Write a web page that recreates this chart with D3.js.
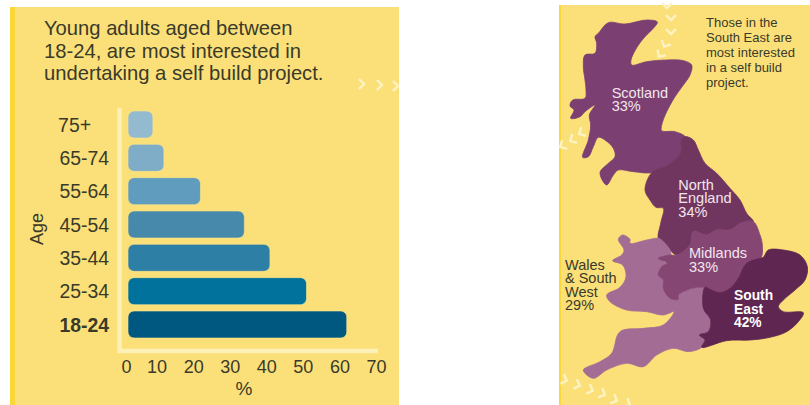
<!DOCTYPE html>
<html>
<head>
<meta charset="utf-8">
<script src="https://cdn.jsdelivr.net/npm/d3@7/dist/d3.min.js"></script>
<style>
html,body{margin:0;padding:0;background:#fff;}
svg{display:block;}
text{font-family:"Liberation Sans",Arial,sans-serif;}
</style>
</head>
<body>
<svg id="chart" width="810" height="405"></svg>
<script>
// Self build interest by age group
const ageGroups = ["75+", "65-74", "55-64", "45-54", "35-44", "25-34", "18-24"];
const interest = [9, 12, 22, 34, 41, 51, 62];
const barColours = ["#93bace", "#7fadc8", "#609cbd", "#4689ab", "#2e7fa5", "#00729b", "#005880"];
const percentTicks = [0, 10, 20, 30, 40, 50, 60, 70];
const titleLines = ["Young adults aged between", "18-24, are most interested in", "undertaking a self build project."];
const noteLines = ["Those in the", "South East are", "most interested", "in a self build", "project."];

// Region outlines in map units
const scotland = [[175,68],[225,72],[290,60],[322,66],[310,85],[285,110],[262,140],[243,180],[245,195],[290,185],[350,180],[400,182],[425,195],[420,225],[400,255],[375,290],[350,335],[335,375],[335,392],[375,395],[405,410],[392,425],[395,450],[375,480],[345,500],[305,518],[250,515],[205,510],[190,525],[170,555],[150,518],[175,490],[195,470],[190,445],[165,420],[145,412],[130,440],[115,470],[98,472],[115,420],[122,375],[118,345],[135,315],[105,335],[90,350],[62,355],[72,330],[60,318],[68,300],[105,295],[108,270],[105,240],[100,200],[105,165],[135,160],[140,130],[135,110],[145,100]];
const northEngland = [[405,410],[430,420],[445,450],[465,490],[500,520],[540,565],[570,600],[590,640],[610,665],[575,668],[540,690],[500,690],[470,705],[430,695],[420,735],[380,765],[360,750],[340,725],[325,715],[332,670],[340,625],[318,622],[300,600],[285,570],[305,518],[345,500],[375,480],[395,450],[392,425]];
const midlands = [[610,665],[630,705],[637,735],[632,775],[590,790],[565,835],[540,865],[510,878],[480,868],[465,862],[440,862],[410,870],[385,885],[385,898],[360,895],[340,865],[340,840],[325,825],[335,800],[352,790],[325,775],[345,768],[362,765],[380,765],[420,735],[430,695],[470,705],[500,690],[540,690],[575,668]];
const southEast = [[632,775],[640,772],[655,750],[700,750],[750,765],[772,800],[765,840],[735,870],[700,900],[685,920],[700,935],[760,938],[745,965],[710,995],[660,1012],[600,1020],[530,1022],[455,1042],[465,1020],[448,1005],[475,995],[482,960],[460,925],[465,862],[480,868],[510,878],[540,865],[565,835],[590,790]];
const walesSouthWest = [[205,718],[218,705],[240,718],[240,730],[290,720],[325,715],[340,725],[360,750],[362,765],[345,775],[340,785],[355,790],[335,800],[325,825],[340,840],[340,865],[360,895],[385,898],[385,885],[410,870],[440,862],[465,862],[460,925],[482,960],[475,995],[448,1005],[465,1020],[455,1042],[415,1055],[370,1045],[320,1065],[280,1100],[230,1090],[170,1110],[130,1135],[100,1110],[150,1085],[185,1060],[210,995],[280,985],[340,975],[372,935],[340,945],[290,935],[230,930],[180,905],[170,885],[210,862],[228,830],[218,795],[188,782],[215,765],[222,750]];
const regionOutlines = [scotland, northEngland, walesSouthWest, midlands, southEast];
const regionColours = ["#7b3f72", "#713660", "#a36c94", "#854674", "#5e2650"];

const regionLabels = [
  {lines: ["Scotland", "33%"], at: [185, 293], fill: "#f3e6ec", weight: "normal", size: 14.5},
  {lines: ["North", "England", "34%"], at: [385, 570], fill: "#f3e6ec", weight: "normal", size: 14.5},
  {lines: ["Midlands", "33%"], at: [417, 775], fill: "#f3e6ec", weight: "normal", size: 14.5},
  {lines: ["South", "East", "42%"], at: [552, 901], fill: "#ffffff", weight: "bold", size: 13.8},
  {lines: ["Wales", "& South", "West", "29%"], at: [45, 810], fill: "#3a3a28", weight: "normal", size: 14.5}
];

// Decorative chevrons: page position and pointing direction in degrees
const chevronsLeft = [[362, 84, 0], [380, 85, 0], [396, 86, 0]];
const chevronsRight = [[667, 6, 90], [671, 18, 90], [671, 32, 90], [665, 45, 115], [660, 55, 125], [581, 133, 150], [572, 140, 150], [562, 146, 150], [565, 380, 20], [578, 385, 20], [591, 390, 20], [603, 394, 25], [615, 400, 25], [628, 404, 25]];

const svg = d3.select("#chart");
const ink = "#3a3a28";
const panelFill = "#fbe07a";
const stripeFill = "#f9d63a";

// Panels
const panels = [[10, 7, 389, 398], [559, 5, 251, 400]];
svg.selectAll("rect.panel").data(panels).join("rect")
  .attr("class", "panel")
  .attr("x", d => d[0]).attr("y", d => d[1])
  .attr("width", d => d[2]).attr("height", d => d[3])
  .attr("fill", panelFill);
svg.selectAll("rect.stripe").data(panels).join("rect")
  .attr("class", "stripe")
  .attr("x", d => d[0]).attr("y", d => d[1])
  .attr("width", (d, i) => i ? 2 : 5).attr("height", d => d[3])
  .attr("fill", stripeFill);

// Chevrons
const chevron = "M-3,-5L2,0L-3,5";
svg.selectAll("path.chevron").data(chevronsLeft.concat(chevronsRight)).join("path")
  .attr("class", "chevron")
  .attr("transform", d => `translate(${d[0]},${d[1]}) rotate(${d[2]})`)
  .attr("d", chevron)
  .attr("fill", "none")
  .attr("stroke", "#fdf3c4")
  .attr("stroke-width", 2.4);

// Bar chart scales
const x = d3.scaleLinear().domain([0, 70]).range([120, 376]);
const y = d3.scaleBand().domain(ageGroups).range([111, 338]).paddingInner(0.19).paddingOuter(0);
const barStart = x(0) + 8;

// Title
svg.append("text")
  .attr("fill", ink).attr("font-size", 20.2)
  .selectAll("tspan").data(titleLines).join("tspan")
  .attr("x", 44).attr("y", (d, i) => 35 + i * 22.5)
  .text(d => d);

// Axis rails
svg.append("path")
  .attr("d", `M${x(0) - 0.5},108V351H378`)
  .attr("fill", "none").attr("stroke", "#fdf0b8").attr("stroke-width", 4.5);

// Bars
svg.selectAll("rect.bar").data(interest).join("rect")
  .attr("class", "bar")
  .attr("x", barStart)
  .attr("y", (d, i) => y(ageGroups[i]))
  .attr("width", d => x(d) - barStart)
  .attr("height", y.bandwidth())
  .attr("rx", 6)
  .attr("fill", (d, i) => barColours[i])
  .attr("stroke", "#fbe58c").attr("stroke-width", 0.6);

// Age axis labels
const yAxis = svg.append("g")
  .attr("transform", "translate(109,1)")
  .call(d3.axisLeft(y).tickSize(0).tickPadding(0));
yAxis.select(".domain").remove();
yAxis.selectAll("text")
  .attr("font-size", 19.4).attr("fill", ink)
  .attr("font-family", '"Liberation Sans",Arial,sans-serif')
  .attr("font-weight", d => d === "18-24" ? "bold" : "normal")
  .attr("dx", d => d === "75+" ? -18 : 0);

// Percent axis labels
const xAxis = svg.append("g")
  .call(d3.axisBottom(x).tickValues(percentTicks).tickSize(0).tickPadding(0).tickFormat(d3.format("d")));
xAxis.select(".domain").remove();
xAxis.selectAll("text")
  .attr("y", 373).attr("dy", 0)
  .attr("dx", d => d === 0 ? 6 : 0)
  .attr("font-size", 18).attr("fill", ink)
  .attr("font-family", '"Liberation Sans",Arial,sans-serif');

svg.append("text").attr("x", 244).attr("y", 395).attr("text-anchor", "middle")
  .attr("font-size", 19).attr("fill", ink).text("%");
svg.append("text").attr("transform", "translate(43,229) rotate(-90)").attr("text-anchor", "middle")
  .attr("font-size", 18).attr("fill", ink).text("Age");

// Map
const mapX = d3.scaleLinear().domain([0, 780]).range([550, 810]);
const mapY = d3.scaleLinear().domain([0, 1215]).range([0, 405]);
const outline = d3.line().x(d => mapX(d[0])).y(d => mapY(d[1])).curve(d3.curveCatmullRomClosed.alpha(0.5));
svg.selectAll("path.region").data(regionOutlines).join("path")
  .attr("class", "region")
  .attr("d", outline)
  .attr("fill", (d, i) => regionColours[i])
  .attr("stroke", (d, i) => regionColours[i])
  .attr("stroke-width", 0.8);

// Region labels
regionLabels.forEach(r => {
  svg.append("text")
    .attr("fill", r.fill).attr("font-size", r.size).attr("font-weight", r.weight)
    .selectAll("tspan").data(r.lines).join("tspan")
    .attr("x", mapX(r.at[0])).attr("y", (d, i) => mapY(r.at[1]) + i * 13.3)
    .text(d => d);
});

// Note beside the map
svg.append("text")
  .attr("fill", ink).attr("font-size", 13)
  .selectAll("tspan").data(noteLines).join("tspan")
  .attr("x", 706).attr("y", (d, i) => 27 + i * 15)
  .text(d => d);
</script>
</body>
</html>
